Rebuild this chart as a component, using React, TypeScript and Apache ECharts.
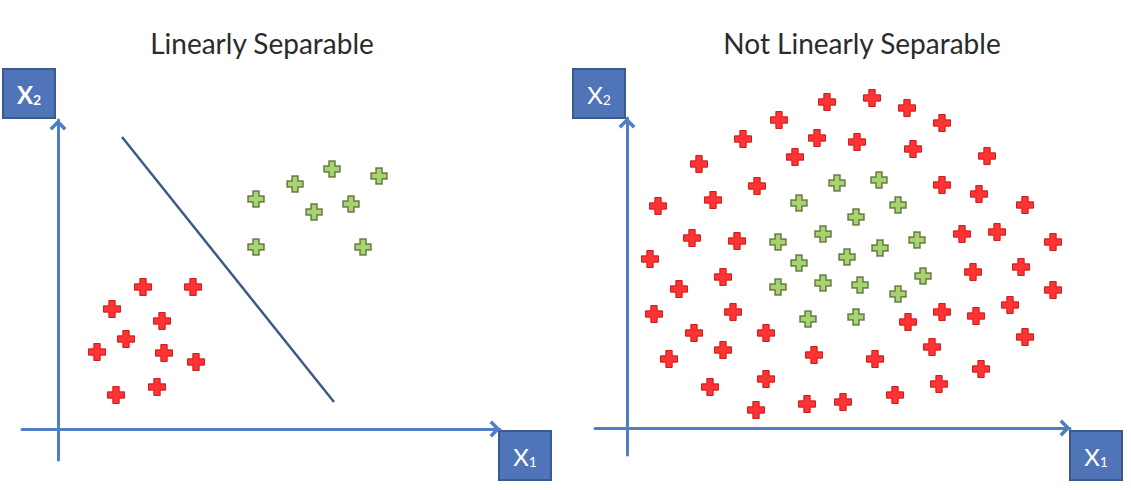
import React, { useEffect, useRef } from "react";
import * as echarts from "echarts";

// ---- Data (x1, x2); units: pixels from each panel's origin ----
const leftRed: number[][] = [
  [85, 142], [135, 142], [54, 120], [104, 108], [68, 90],
  [39, 77], [106, 76], [138, 67], [58, 34], [99, 42],
];
const leftGreen: number[][] = [
  [274, 260], [237, 245], [321, 253], [198, 230],
  [293, 225], [256, 217], [198, 182], [305, 182],
];
const boundaryLine: number[][] = [[64, 292], [276, 27]];

const rightRed: number[][] = [
  [200, 326], [245, 330], [280, 320], [315, 305], [152, 308], [116, 289],
  [190, 290], [230, 286], [286, 279], [360, 272], [168, 271], [72, 264],
  [130, 242], [315, 243], [352, 234], [86, 228], [31, 222], [398, 223],
  [335, 194], [370, 196], [65, 190], [110, 187], [426, 186], [23, 169],
  [96, 151], [52, 139], [346, 156], [394, 161], [426, 138], [383, 123],
  [27, 114], [106, 116], [315, 116], [349, 112], [281, 106], [67, 95],
  [139, 95], [398, 91], [96, 78], [305, 81], [187, 73], [42, 69],
  [248, 69], [354, 59], [139, 49], [312, 44], [83, 41], [268, 33],
  [216, 26], [180, 24], [129, 18],
];
const rightGreen: number[][] = [
  [210, 245], [252, 248], [172, 225], [271, 223], [229, 211], [151, 186],
  [196, 194], [290, 188], [253, 180], [220, 171], [172, 165], [296, 152],
  [151, 141], [196, 145], [233, 143], [271, 134], [181, 109], [229, 111],
];

const titles = ["Linearly Separable", "Not Linearly Separable"];
const axisNames = { x: "1", y: "2" };

// ---- Styles ----
const AXIS_BLUE = "#4f7fc3";
const BOX_FILL = "#4f74b8";
const BOX_BORDER = "#3a5a8c";
const PLUS = "path://M5 0 H11 V5 H16 V11 H11 V16 H5 V11 H0 V5 H5 Z";
const ARROW = "path://M10 0 L20 10 L17 13 L10 6 L3 13 L0 10 Z";

function axisPair(grid: number, xmin: number, xmax: number, ymin: number, ymax: number) {
  const line = {
    onZero: true,
    lineStyle: { color: AXIS_BLUE, width: 3 },
    symbol: ["none", ARROW],
    symbolSize: [17, 11],
    symbolOffset: [0, -5],
  };
  const common = {
    type: "value" as const,
    gridIndex: grid,
    axisLine: line,
    axisTick: { show: false },
    axisLabel: { show: false },
    splitLine: { show: false },
  };
  return {
    x: { ...common, min: xmin, max: xmax },
    y: { ...common, min: ymin, max: ymax },
  };
}

function labelBox(x: number, y: number, sub: string, bold: boolean) {
  return {
    type: "group",
    x,
    y,
    children: [
      {
        type: "rect",
        shape: { x: 0, y: 0, width: 52, height: 49 },
        style: { fill: BOX_FILL, stroke: BOX_BORDER, lineWidth: 2 },
      },
      {
        type: "text",
        x: 26,
        y: 25,
        style: {
          text: `{a|X}{b|${sub}}`,
          align: "center",
          verticalAlign: "middle",
          rich: {
            a: { fontSize: 24, fontWeight: bold ? "bold" : "normal", fill: "#ffffff", fontFamily: "Lato, sans-serif", lineHeight: 24 },
            b: { fontSize: 14, fontWeight: bold ? "bold" : "normal", fill: "#ffffff", fontFamily: "Lato, sans-serif", lineHeight: 14, verticalAlign: "bottom" },
          },
        },
      },
    ],
  };
}

export default function App() {
  const ref = useRef<HTMLDivElement>(null);
  useEffect(() => {
    if (!ref.current) return;
    const chart = echarts.init(ref.current, undefined, { renderer: "svg" });
    const a = axisPair(0, -36, 442, -31, 309);
    const b = axisPair(1, -32, 443, -27, 310);
    const redStyle = { color: "#ff0000", borderColor: "#c00000", borderWidth: 1 };
    const greenStyle = { color: "#92c84e", borderColor: "#4f6228", borderWidth: 1.5 };
    const titleStyle = { fontSize: 28, fontWeight: "normal", color: "#2b2b2b", fontFamily: "Lato, sans-serif" };
    chart.setOption({
      animation: false,
      backgroundColor: "#ffffff",
      title: [
        { text: titles[0], left: 257, top: 24, textAlign: "center", textStyle: titleStyle },
        { text: titles[1], left: 857, top: 24, textAlign: "center", textStyle: titleStyle },
      ],
      grid: [
        { left: 22, top: 120, width: 478, height: 340 },
        { left: 595, top: 118, width: 475, height: 337 },
      ],
      xAxis: [a.x, b.x],
      yAxis: [a.y, b.y],
      series: [
        { type: "scatter", xAxisIndex: 0, yAxisIndex: 0, data: leftRed, symbol: PLUS, symbolSize: 17, itemStyle: redStyle, clip: false },
        { type: "scatter", xAxisIndex: 0, yAxisIndex: 0, data: leftGreen, symbol: PLUS, symbolSize: 16, itemStyle: greenStyle, clip: false },
        { type: "line", xAxisIndex: 0, yAxisIndex: 0, data: boundaryLine, showSymbol: false, symbol: "none", lineStyle: { color: "#3d5a8a", width: 2.5 } },
        { type: "scatter", xAxisIndex: 1, yAxisIndex: 1, data: rightRed, symbol: PLUS, symbolSize: 17, itemStyle: redStyle, clip: false },
        { type: "scatter", xAxisIndex: 1, yAxisIndex: 1, data: rightGreen, symbol: PLUS, symbolSize: 16, itemStyle: greenStyle, clip: false },
      ],
      graphic: [
        labelBox(3, 69, axisNames.y, true),
        labelBox(499, 431, axisNames.x, false),
        labelBox(573, 69, axisNames.y, false),
        labelBox(1070, 431, axisNames.x, false),
      ],
    });
    return () => chart.dispose();
  }, []);
  return <div ref={ref} style={{ position: "fixed", left: 0, top: 0, width: 1131, height: 490 }} />;
}
